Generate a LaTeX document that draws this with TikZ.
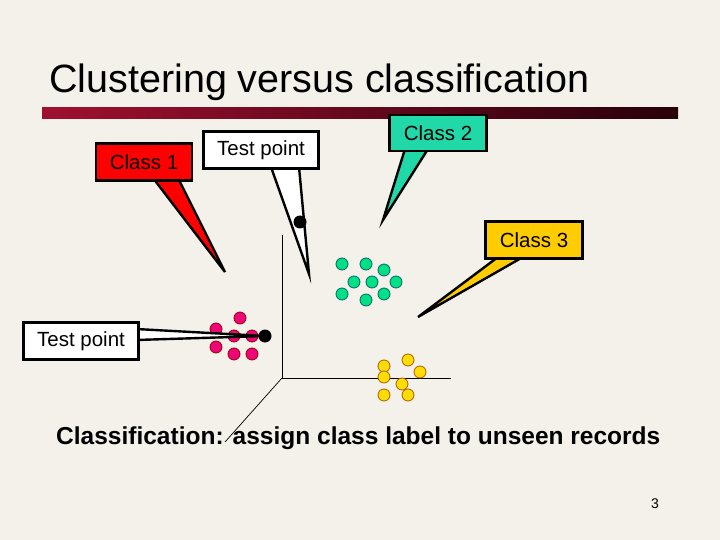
\documentclass[tikz,border=0pt]{standalone}
\usepackage{fontspec}
\setmainfont{Liberation Sans}
\begin{document}
\begin{tikzpicture}[x=1pt,y=-1pt,
  call/.style={draw=black,line width=2.4pt,line join=miter},
  lbl/.style={font=\fontsize{20.5}{24}\selectfont,inner sep=0pt},
  pk/.style={circle,draw=black!40!red,fill=magenta!80!red,line width=0.8pt,minimum size=12pt,inner sep=0pt},
  tl/.style={circle,draw=teal!80!black,fill=teal!40!green!60!cyan,line width=0.8pt,minimum size=12pt,inner sep=0pt},
  yl/.style={circle,draw=orange!70!black,fill=yellow!80!orange,line width=0.8pt,minimum size=12pt,inner sep=0pt},
  dot/.style={circle,fill=black,minimum size=13pt,inner sep=0pt}]
\definecolor{bg}{HTML}{F3F1EA}
\definecolor{tealc}{HTML}{20D8A8}
\definecolor{gold}{HTML}{FFCC00}
\fill[bg] (0,0) rectangle (720,540);
\useasboundingbox (0,0) rectangle (720,540);
\node[anchor=west,font=\fontsize{39.5}{42}\selectfont,inner sep=0pt] (title) at (49,82) {Clustering versus classification};
\shade[left color={rgb,255:red,160;green,16;blue,48}, right color={rgb,255:red,40;green,0;blue,10}] (42,108) rectangle (678,119);
% axes
\draw[line width=0.7pt] (282,235) -- (282,378) -- (451,378);
\draw[line width=0.7pt] (282,378) -- (225,442);
% class 1
\draw[call,fill=red] (153,178) -- (225,272) -- (178,178) -- cycle;
\node[call,fill=red,minimum width=96pt,minimum height=37pt,lbl] (c1) at (144,162) {Class 1};
% test point top
\draw[call,fill=white] (271,167) -- (309,274) -- (299,167) -- cycle;
\node[call,fill=white,minimum width=115pt,minimum height=37pt,lbl] (tp1) at (261,150) {Test point};
\node[dot] (d1) at (300,222) {};
% class 2
\draw[call,fill=tealc] (405,149) -- (383,220) -- (428,149) -- cycle;
\node[call,fill=tealc,minimum width=97pt,minimum height=36pt,lbl] (c2) at (438,133) {Class 2};
% class 3
\draw[call,fill=gold] (498,257) -- (418,317) -- (523,257) -- cycle;
\node[call,fill=gold,minimum width=97pt,minimum height=37pt,lbl] (c3) at (534,240) {Class 3};
% points
\foreach \x/\y in {240/318,216/329,234/336,252/336,216/347,234/354,252/354} \node[pk] at (\x,\y) {};
\foreach \x/\y in {342/264,366/264,384/270,354/282,372/282,396/282,342/294,366/300,384/294} \node[tl] at (\x,\y) {};
\foreach \x/\y in {408/360,384/366,420/372,384/377,402/384,384/395,408/395} \node[yl] at (\x,\y) {};
% test point left
\draw[call,fill=white] (136,329) -- (265,336) -- (136,340) -- cycle;
\node[call,fill=white,minimum width=115pt,minimum height=37pt,lbl] (tp2) at (81,341) {Test point};
\node[dot] (d2) at (265,336) {};
\node[anchor=west,font=\fontsize{24.5}{28}\selectfont\bfseries,inner sep=0pt] (cap) at (56,438) {Classification: assign class label to unseen records};
\node[font=\fontsize{14}{16}\selectfont,inner sep=0pt] (pg) at (655,504) {3};
\end{tikzpicture}
\end{document}
